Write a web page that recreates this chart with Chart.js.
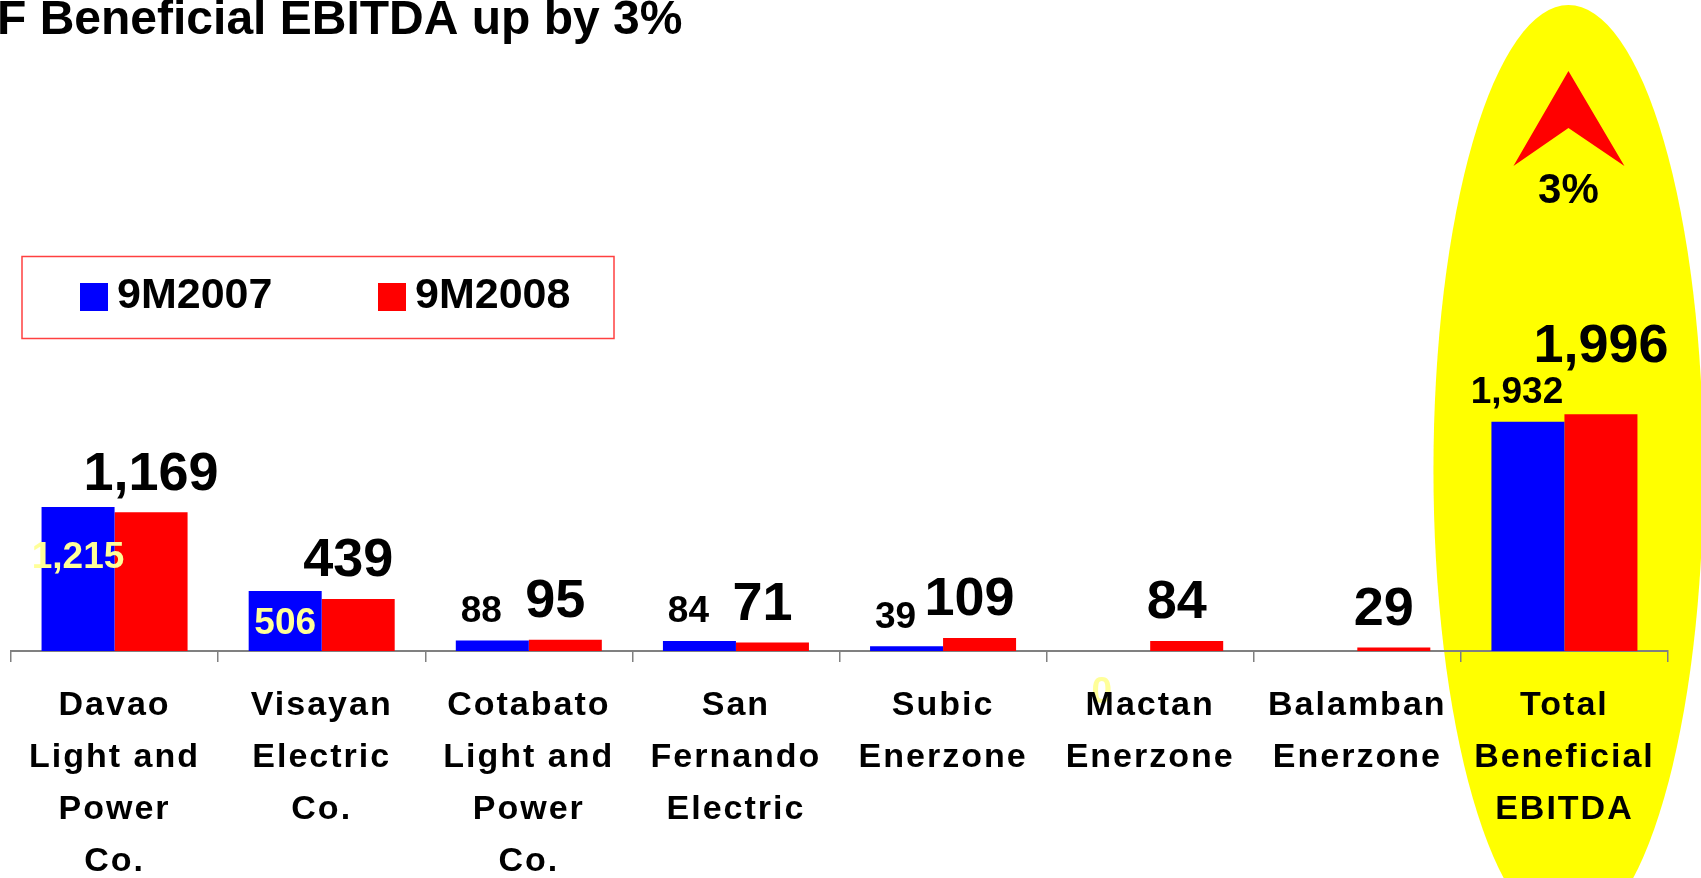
<!DOCTYPE html>
<html>
<head>
<meta charset="utf-8">
<script src="https://cdn.jsdelivr.net/npm/chart.js@4/dist/chart.umd.min.js"></script>
<style>
  html, body { margin: 0; padding: 0; background: #ffffff; overflow: hidden; }
  #wrap { position: relative; width: 1701px; height: 878px; }
  canvas { display: block; }
</style>
</head>
<body>
<div id="wrap"><canvas id="c" width="1701" height="878"></canvas></div>
<script>
// ---------- data ----------
const titleText = "F Beneficial EBITDA up by 3%";
const categories = [
  ["Davao", "Light and", "Power", "Co."],
  ["Visayan", "Electric", "Co."],
  ["Cotabato", "Light and", "Power", "Co."],
  ["San", "Fernando", "Electric"],
  ["Subic", "Enerzone"],
  ["Mactan", "Enerzone"],
  ["Balamban", "Enerzone"],
  ["Total", "Beneficial", "EBITDA"]
];
const seriesNames = ["9M2007", "9M2008"];
const values2007 = [1215, 506, 88, 84, 39, 0, null, 1932];
const values2008 = [1169, 439, 95, 71, 109, 84, 29, 1996];
const changeLabel = "3%";
const yMax = 5000;

// ---------- style ----------
const FONT = '"Liberation Sans", Arial, Helvetica, sans-serif';
const BLUE = '#0000FF', RED = '#FF0000', YELLOW = '#FFFF00', PALE = '#FFFF99', GREY = '#808080';
const INSIDE_LABELS = new Set([0, 1]);   // categories whose 9M2007 label sits inside the bar
const HIGHLIGHT_INDEX = 7;               // highlighted (total) category
const fmt = v => v.toLocaleString('en-US');

const decorPlugin = {
  id: 'decor',
  beforeDraw(chart) {
    const ctx = chart.ctx;
    const xs = chart.scales.x, ys = chart.scales.y;
    ctx.save();
    ctx.fillStyle = '#ffffff';
    ctx.fillRect(0, 0, chart.width, chart.height);

    // highlight ellipse around total
    const cx = xs.getPixelForValue(HIGHLIGHT_INDEX) + 4;
    ctx.fillStyle = YELLOW;
    ctx.beginPath();
    ctx.ellipse(cx, 470, 135, 465, 0, 0, Math.PI * 2);
    ctx.fill();

    // up chevron
    ctx.fillStyle = RED;
    ctx.beginPath();
    ctx.moveTo(cx, 71);
    ctx.lineTo(cx + 56, 166);
    ctx.lineTo(cx, 128);
    ctx.lineTo(cx - 55, 166);
    ctx.closePath();
    ctx.fill();

    ctx.fillStyle = '#000';
    ctx.font = `bold 42px ${FONT}`;
    ctx.textAlign = 'center';
    ctx.textBaseline = 'alphabetic';
    ctx.fillText(changeLabel, cx, 203);

    // title
    ctx.textAlign = 'left';
    ctx.font = `bold 48px ${FONT}`;
    ctx.fillText(titleText, -3, 34);

    // legend
    ctx.strokeStyle = '#FF4040';
    ctx.lineWidth = 1.5;
    ctx.strokeRect(22, 256.5, 592, 82);
    const items = chart.data.datasets;
    const lx = [80, 378];
    ctx.font = `bold 43px ${FONT}`;
    items.forEach((ds, k) => {
      ctx.fillStyle = ds.backgroundColor;
      ctx.fillRect(lx[k], 283, 28, 28);
      ctx.fillStyle = '#000';
      ctx.fillText(ds.label, lx[k] + 37, 308);
    });

    // zero-value labels (sit behind the axis labels)
    const base = ys.getPixelForValue(0);
    const m0 = chart.getDatasetMeta(0);
    ctx.font = `bold 37px ${FONT}`;
    ctx.textAlign = 'center';
    m0.data.forEach((bar, i) => {
      if (values2007[i] === 0) {
        ctx.fillStyle = PALE;
        ctx.fillText(fmt(0), bar.x - 12, base + 39 + 0.358 * 37);
      }
    });
    ctx.restore();
    ctx.letterSpacing = '2px';
  },
  beforeDatasetsDraw(chart) {
    chart.ctx.letterSpacing = '0px';
  },
  afterDatasetsDraw(chart) {
    const ctx = chart.ctx;
    const base = chart.scales.y.getPixelForValue(0);
    const m0 = chart.getDatasetMeta(0), m1 = chart.getDatasetMeta(1);
    ctx.save();
    ctx.textAlign = 'center';
    ctx.textBaseline = 'alphabetic';
    const fs0 = 37, fs1 = 54;
    const boxes = [];
    m0.data.forEach((bar, i) => {
      const v = values2007[i];
      boxes[i] = null;
      if (v == null || v === 0) return;
      ctx.font = `bold ${fs0}px ${FONT}`;
      const txt = fmt(v);
      const h = base - bar.y;
      let cx, cy;
      if (INSIDE_LABELS.has(i)) {
        cx = bar.x; cy = bar.y + Math.min(h / 2, 48);
        ctx.fillStyle = PALE;
      } else {
        cx = bar.x - 11; cy = bar.y - 32;
        ctx.fillStyle = '#000';
        const w = ctx.measureText(txt).width;
        boxes[i] = { l: cx - w / 2, r: cx + w / 2, t: cy - 0.358 * fs0 };
      }
      ctx.fillText(txt, cx, cy + 0.358 * fs0);
    });
    m1.data.forEach((bar, i) => {
      const v = values2008[i];
      if (v == null) return;
      ctx.font = `bold ${fs1}px ${FONT}`;
      const txt = fmt(v);
      const w = ctx.measureText(txt).width;
      const cx = bar.x - (txt.length >= 5 ? 0 : 10);
      let cy = bar.y - 42;
      const b = boxes[i];
      if (b && cx - w / 2 < b.r && cy + 0.358 * fs1 > b.t - 15) {
        cy = b.t - 15 - 0.358 * fs1;
      }
      ctx.fillStyle = '#000';
      ctx.fillText(txt, cx, cy + 0.358 * fs1);
    });
    ctx.restore();
  }
};

new Chart(document.getElementById('c'), {
  type: 'bar',
  data: {
    labels: categories,
    datasets: [
      { label: seriesNames[0], data: values2007, backgroundColor: BLUE, borderWidth: 0 },
      { label: seriesNames[1], data: values2008, backgroundColor: RED, borderWidth: 0 }
    ]
  },
  options: {
    responsive: false,
    animation: false,
    devicePixelRatio: 1,
    layout: { padding: { left: 11, right: 33, top: 58, bottom: 0 } },
    datasets: { bar: { categoryPercentage: 0.705, barPercentage: 1.0 } },
    plugins: { legend: { display: false }, tooltip: { enabled: false }, title: { display: false } },
    scales: {
      x: {
        grid: { display: true, drawOnChartArea: false, drawTicks: true, tickLength: 11, color: GREY, lineWidth: 1.5, offset: true },
        border: { display: true, color: GREY, width: 2 },
        ticks: {
          color: '#000', padding: 18, autoSkip: false, maxRotation: 0, minRotation: 0,
          font: { family: FONT, size: 34, weight: 'bold', lineHeight: 1.53 }
        },
        afterFit: s => { s.height = 227; }
      },
      y: { display: false, min: 0, max: yMax }
    }
  },
  plugins: [decorPlugin]
});
</script>
</body>
</html>
